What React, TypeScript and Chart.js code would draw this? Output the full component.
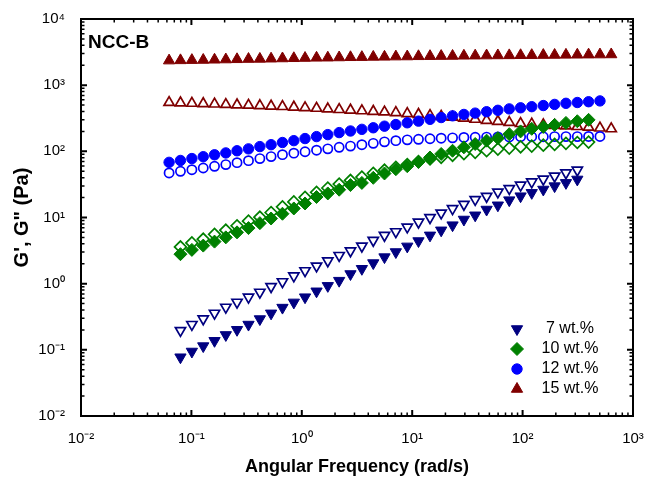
import React, { useEffect, useRef } from 'react';
import { Chart, registerables } from 'chart.js';
import { drawPoint } from 'chart.js/helpers';

Chart.register(...registerables);

const FONT = "'Liberation Sans', Arial, Helvetica, sans-serif";

// Angular frequency (rad/s)
const FREQ = [0.0628, 0.0796, 0.101, 0.128, 0.162, 0.205, 0.259, 0.329, 0.417, 0.527,
  0.668, 0.847, 1.07, 1.36, 1.72, 2.18, 2.76, 3.50, 4.44, 5.61,
  7.11, 9.02, 11.4, 14.5, 18.3, 23.2, 29.4, 37.2, 47.2, 59.7,
  75.7, 95.9, 121, 154, 195, 247, 313, 396, 502, 635];

// G' (storage, filled) and G'' (loss, open) in Pa
const G7_STORAGE = [null, 0.0773, 0.0944, 0.114, 0.137, 0.168, 0.201, 0.241, 0.292, 0.356,
  0.435, 0.521, 0.625, 0.767, 0.927, 1.11, 1.40, 1.68, 2.05, 2.52,
  3.01, 3.66, 4.41, 5.37, 6.40, 7.66, 9.33, 10.8, 13.2, 15.3,
  18.3, 21.0, 23.6, 26.5, 29.8, 33.4, 37.6, null, null, null];
const G7_LOSS = [null, 0.196, 0.242, 0.294, 0.358, 0.441, 0.525, 0.625, 0.743, 0.902,
  1.07, 1.31, 1.57, 1.85, 2.21, 2.67, 3.13, 3.70, 4.51, 5.37,
  6.10, 7.18, 8.53, 9.95, 11.7, 13.6, 15.8, 18.7, 20.9, 24.3,
  27.4, 30.8, 34.5, 38.0, 42.2, 47.3, 52.0, null, null, null];
const G10_STORAGE = [null, 2.79, 3.24, 3.76, 4.32, 5.01, 5.96, 6.92, 8.22, 9.66,
  11.4, 13.7, 16.3, 20.4, 23.1, 26.3, 30.9, 33.3, 39.8, 46.3,
  53.7, 59.7, 69.2, 80.7, 91.2, 102, 115, 129, 145, 158,
  182, 200, 219, 234, 251, 269, 285, 299, null, null];
const G10_LOSS = [null, 3.59, 4.13, 4.70, 5.56, 6.43, 7.50, 8.81, 10.1, 11.9,
  14.5, 17.2, 20.2, 24.0, 27.9, 32.0, 36.3, 40.9, 46.6, 51.9,
  57.5, 63.1, 70.0, 76.7, 81.3, 87.1, 92.3, 96.6, 102, 108,
  112, 117, 120, 124, 127, 132, 136, 138, null, null];
const G12_STORAGE = [68.2, 72.8, 77.8, 83.0, 88.7, 94.6, 102, 109, 118, 126,
  136, 145, 156, 167, 179, 192, 203, 215, 227, 240,
  254, 270, 286, 305, 324, 344, 361, 378, 397, 417,
  438, 455, 473, 492, 512, 532, 547, 562, 578, null];
const G12_LOSS = [47.1, 49.9, 52.8, 56.0, 59.4, 63.0, 67.5, 72.3, 77.6, 83.2,
  89.1, 93.8, 98.6, 104, 109, 115, 120, 126, 132, 139,
  145, 149, 152, 155, 158, 160, 162, 163, 164, 165,
  165, 166, 166, 166, 167, 167, 167, 168, 168, null];
const G15_STORAGE = [2350, 2370, 2390, 2400, 2420, 2440, 2460, 2480, 2490, 2510,
  2530, 2550, 2570, 2590, 2600, 2620, 2640, 2650, 2670, 2680,
  2700, 2710, 2730, 2740, 2750, 2760, 2780, 2790, 2800, 2810,
  2820, 2830, 2840, 2850, 2860, 2870, 2880, 2890, 2900, 2910];
const G15_LOSS = [547, 540, 532, 525, 518, 510, 504, 497, 489, 482,
  475, 466, 456, 447, 437, 428, 419, 410, 401, 393,
  385, 372, 361, 348, 337, 327, 316, 305, 294, 283,
  273, 263, 258, 252, 247, 242, 237, 232, 225, 219];

const SERIES_NAMES = ['7 wt.%', '10 wt.%', '12 wt.%', '15 wt.%'];
const COLORS = ['#000080', '#008000', '#0000ff', '#800000'];

const X_TICK_VALUES = [0.01, 0.1, 1, 10, 100, 1000];
const X_TICK_LABELS = ['10⁻²', '10⁻¹', '10⁰', '10¹', '10²', '10³'];
const Y_TICK_VALUES = [0.01, 0.1, 1, 10, 100, 1000, 10000];
const Y_TICK_LABELS = ['10⁻²', '10⁻¹', '10⁰', '10¹', '10²', '10³', '10⁴'];

const PANEL_LABEL = 'NCC-B';
const X_TITLE = 'Angular Frequency (rad/s)';
const Y_TITLE = 'G\', G" (Pa)';

const MARKERS = [
  { pointStyle: 'triangle', rotation: 180, radius: 6.5 },
  { pointStyle: 'rectRot', rotation: 0, radius: 6.5 },
  { pointStyle: 'circle', rotation: 0, radius: 5.2 },
  { pointStyle: 'triangle', rotation: 0, radius: 6.5 },
];

function logTicks(majors: number[]) {
  const out: { value: number; major: boolean }[] = [];
  for (let i = 0; i < majors.length; i++) {
    out.push({ value: majors[i], major: true });
    if (i < majors.length - 1) {
      for (let m = 2; m <= 9; m++) out.push({ value: majors[i] * m, major: false });
    }
  }
  return out;
}

function labelFor(values: number[], labels: string[]) {
  return (v: any) => {
    const n = Number(v);
    const idx = values.findIndex((t) => Math.abs(Math.log10(t) - Math.log10(n)) < 1e-6);
    return idx >= 0 ? labels[idx] : '';
  };
}

function toPoints(arr: (number | null)[]) {
  return FREQ.map((x, i) => ({ x, y: arr[i] })).filter((p) => p.y != null);
}

const framePlugin = {
  id: 'frameTicks',
  afterDraw(chart: any) {
    const { ctx, chartArea: a, scales } = chart;
    const xs = scales.x;
    const ys = scales.y;
    ctx.save();
    ctx.strokeStyle = '#000';
    ctx.lineCap = 'butt';
    for (const t of xs.ticks) {
      const px = xs.getPixelForValue(t.value);
      if (px < a.left - 0.5 || px > a.right + 0.5) continue;
      const L = t.major ? 6 : 3.5;
      ctx.lineWidth = t.major ? 2 : 1.5;
      ctx.beginPath();
      ctx.moveTo(px, a.bottom);
      ctx.lineTo(px, a.bottom - L);
      ctx.moveTo(px, a.top);
      ctx.lineTo(px, a.top + L);
      ctx.stroke();
    }
    for (const t of ys.ticks) {
      const py = ys.getPixelForValue(t.value);
      if (py < a.top - 0.5 || py > a.bottom + 0.5) continue;
      const L = t.major ? 6 : 3.5;
      ctx.lineWidth = t.major ? 2 : 1.5;
      ctx.beginPath();
      ctx.moveTo(a.left, py);
      ctx.lineTo(a.left + L, py);
      ctx.moveTo(a.right, py);
      ctx.lineTo(a.right - L, py);
      ctx.stroke();
    }
    ctx.lineWidth = 2;
    ctx.strokeRect(a.left, a.top, a.right - a.left, a.bottom - a.top);

    // panel label
    ctx.fillStyle = '#000';
    ctx.font = `bold 19px ${FONT}`;
    ctx.textAlign = 'left';
    ctx.textBaseline = 'alphabetic';
    ctx.fillText(PANEL_LABEL, a.left + 7, a.top + 29);

    // legend
    const mx = a.right - 116;
    const tx = a.right - 63;
    for (let i = 0; i < SERIES_NAMES.length; i++) {
      const yy = a.bottom - 87 + i * 20;
      ctx.fillStyle = COLORS[i];
      ctx.strokeStyle = COLORS[i];
      ctx.lineWidth = 1;
      drawPoint(ctx, { ...MARKERS[i], borderWidth: 1 } as any, mx, yy);
      ctx.fillStyle = '#000';
      ctx.font = `16px ${FONT}`;
      ctx.textAlign = 'center';
      ctx.textBaseline = 'middle';
      ctx.fillText(SERIES_NAMES[i], tx, yy);
    }
    ctx.restore();
  },
};

export default function App() {
  const ref = useRef<HTMLCanvasElement | null>(null);
  useEffect(() => {
    if (!ref.current) return;
    const storage = [G7_STORAGE, G10_STORAGE, G12_STORAGE, G15_STORAGE];
    const loss = [G7_LOSS, G10_LOSS, G12_LOSS, G15_LOSS];
    const filled = storage.map((arr, i) => ({
      label: SERIES_NAMES[i] + " G'",
      data: toPoints(arr),
      pointStyle: MARKERS[i].pointStyle,
      rotation: MARKERS[i].rotation,
      pointRadius: MARKERS[i].radius,
      pointBackgroundColor: COLORS[i],
      pointBorderColor: COLORS[i],
      pointBorderWidth: 1,
      showLine: false,
    }));
    const open = loss.map((arr, i) => ({
      label: SERIES_NAMES[i] + ' G"',
      data: toPoints(arr),
      pointStyle: MARKERS[i].pointStyle,
      rotation: MARKERS[i].rotation,
      pointRadius: MARKERS[i].radius - 0.6,
      pointBackgroundColor: 'rgba(255,255,255,0)',
      pointBorderColor: COLORS[i],
      pointBorderWidth: 1.7,
      showLine: false,
    }));
    const chart = new Chart(ref.current, {
      type: 'scatter',
      data: { datasets: [...filled, ...open] as any },
      options: {
        responsive: false,
        animation: false,
        devicePixelRatio: 1,
        layout: { padding: { left: 0, right: 24, top: 19, bottom: 0 } },
        plugins: { legend: { display: false }, tooltip: { enabled: false } },
        scales: {
          x: {
            type: 'logarithmic',
            position: 'bottom',
            min: 0.01,
            max: 1000,
            afterBuildTicks: (s: any) => { s.ticks = logTicks(X_TICK_VALUES); },
            afterFit: (s: any) => { s.height = 63; },
            grid: { display: false },
            border: { display: false },
            ticks: {
              autoSkip: false,
              maxRotation: 0,
              minRotation: 0,
              padding: 6,
              color: '#000',
              font: { size: 15, family: FONT },
              callback: labelFor(X_TICK_VALUES, X_TICK_LABELS),
            },
            title: {
              display: true,
              text: X_TITLE,
              color: '#000',
              font: { size: 18, weight: 'bold', family: FONT },
              padding: { top: 0, bottom: 1 },
            },
          },
          y: {
            type: 'logarithmic',
            position: 'left',
            min: 0.01,
            max: 10000,
            afterBuildTicks: (s: any) => { s.ticks = logTicks(Y_TICK_VALUES); },
            afterFit: (s: any) => { s.width = 81; },
            grid: { display: false },
            border: { display: false },
            ticks: {
              autoSkip: false,
              padding: 8,
              color: '#000',
              font: { size: 15, family: FONT },
              callback: labelFor(Y_TICK_VALUES, Y_TICK_LABELS),
            },
            title: {
              display: true,
              text: Y_TITLE,
              color: '#000',
              font: { size: 20, weight: 'bold', family: FONT },
              padding: { top: 10, bottom: 0 },
            },
          },
        },
      } as any,
      plugins: [framePlugin],
    });
    return () => chart.destroy();
  }, []);
  return (
    <div style={{ position: 'fixed', left: 0, top: 0, width: 657, height: 479, background: '#fff' }}>
      <canvas ref={ref} width={657} height={479} style={{ display: 'block' }} />
    </div>
  );
}
